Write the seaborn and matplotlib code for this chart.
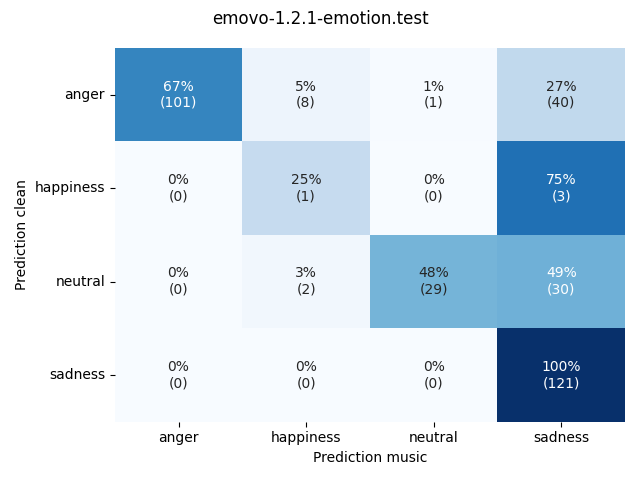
import numpy as np
import matplotlib
matplotlib.use("Agg")
import matplotlib.pyplot as plt
import seaborn as sns

# Confusion data
labels = ["anger", "happiness", "neutral", "sadness"]
anger_counts = [101, 8, 1, 40]
happiness_counts = [0, 1, 0, 3]
neutral_counts = [0, 2, 29, 30]
sadness_counts = [0, 0, 0, 121]

counts = np.array([anger_counts, happiness_counts, neutral_counts, sadness_counts])
ratios = counts / counts.sum(axis=1, keepdims=True)

annot = np.array(
    [
        [f"{r:.0%}\n({c})" for r, c in zip(row_r, row_c)]
        for row_r, row_c in zip(ratios, counts)
    ]
)

fig, ax = plt.subplots(figsize=(6.4, 4.8), dpi=100)
sns.heatmap(
    ratios,
    annot=annot,
    fmt="",
    cmap="Blues",
    cbar=False,
    vmin=0,
    vmax=1,
    xticklabels=labels,
    yticklabels=labels,
    ax=ax,
)
ax.set_xlabel("Prediction music")
ax.set_ylabel("Prediction clean")
plt.setp(ax.get_yticklabels(), rotation=0)
fig.suptitle("emovo-1.2.1-emotion.test")
fig.tight_layout()
fig.savefig("out.png")
